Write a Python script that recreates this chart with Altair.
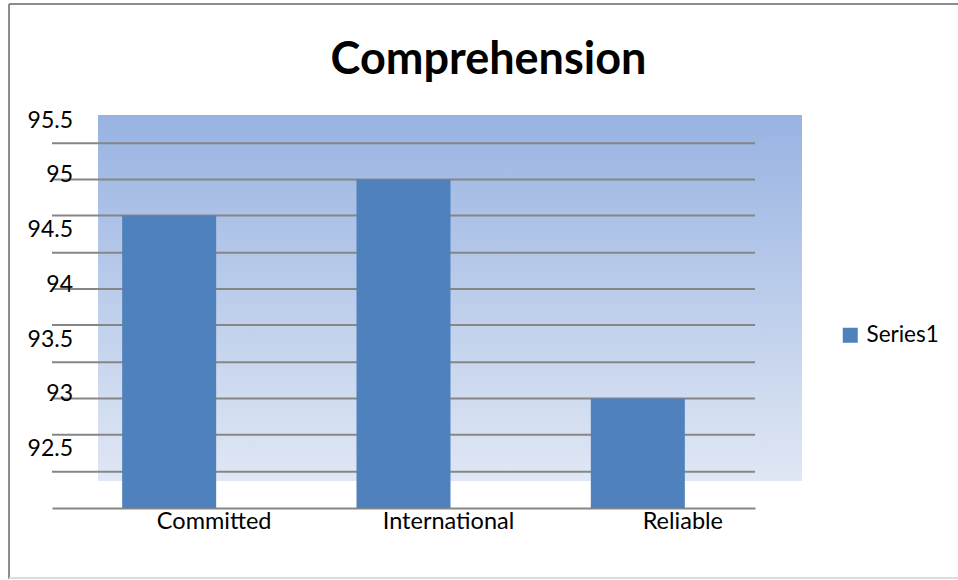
import altair as alt
import pandas as pd

# Chart values
categories = ["Committed", "International", "Reliable"]
values = [94.67, 95.0, 93.0]
series_name = "Series1"

# Horizontal gridline levels and printed y tick labels
grid_levels = [92.33, 92.67, 93.0, 93.33, 93.67, 94.0, 94.33, 94.67, 95.0, 95.33]
tick_labels = [92.5, 93.0, 93.5, 94.0, 94.5, 95.0, 95.5]
y_floor = 92

FONT = "Lato"
W, H = 703, 365
Y_DOMAIN = [y_floor, 95.333]
GRID = "#868686"
BAR = "#4f81bd"

bars_df = pd.DataFrame({"cat": categories, "val": values, "series": [series_name] * len(values)})
grid_df = pd.DataFrame({"g": grid_levels})
ticks_df = pd.DataFrame({"t": tick_labels})
one = alt.Data(values=[{}])

yscale = alt.Scale(domain=Y_DOMAIN, zero=False, nice=False)

# gradient panel behind the bars
panel = alt.Chart(one).mark_rect(
    color=alt.Gradient(
        gradient="linear",
        stops=[alt.GradientStop(color="#98b3e2", offset=0),
               alt.GradientStop(color="#e0e7f4", offset=1)],
        x1=0, x2=0, y1=0, y2=1,
    )
).encode(x=alt.value(46), x2=alt.value(750), y=alt.value(-28), y2=alt.value(338))

grid = alt.Chart(grid_df).mark_rule(color=GRID, strokeWidth=2).encode(
    y=alt.Y("g:Q", scale=yscale, axis=None),
    x=alt.value(0), x2=alt.value(W),
)

bars = alt.Chart(bars_df).mark_bar(size=94).encode(
    x=alt.X("cat:N", sort=categories,
            scale=alt.Scale(paddingInner=0.6, paddingOuter=0.3),
            axis=alt.Axis(title=None, labelAngle=0, labelOffset=45, labelPadding=1,
                          labelFont=FONT, labelFontSize=23.5, labelColor="black",
                          ticks=False, domainColor=GRID, domainWidth=2)),
    y=alt.Y("val:Q", scale=yscale,
            axis=alt.Axis(title=None, labels=False, ticks=False, grid=False,
                          domainColor=GRID, domainWidth=2)),
    y2=alt.datum(y_floor),
    color=alt.Color("series:N", scale=alt.Scale(range=[BAR]),
                    legend=alt.Legend(title=None, orient="none", legendX=787, legendY=181,
                                      padding=0, symbolType="square", symbolSize=225,
                                      symbolStrokeWidth=0, labelOffset=5,
                                      labelFont=FONT, labelFontSize=22.5, labelColor="black")),
)

labels = alt.Chart(ticks_df).mark_text(
    align="right", baseline="middle", dy=-4, font=FONT, fontSize=23, color="black"
).encode(
    y=alt.Y("t:Q", scale=yscale, axis=None),
    x=alt.value(21),
    text=alt.Text("t:Q"),
)

# outer frame
frame_left = alt.Chart(one).mark_rule(color="#8c8c8c", strokeWidth=2).encode(
    x=alt.value(-43), y=alt.value(-139), y2=alt.value(436))
frame_top = alt.Chart(one).mark_rule(color="#8c8c8c", strokeWidth=2).encode(
    x=alt.value(-43), x2=alt.value(910), y=alt.value(-139))
frame_bottom = alt.Chart(one).mark_rule(color="#dcdcdc", strokeWidth=2).encode(
    x=alt.value(-43), x2=alt.value(910), y=alt.value(435))

chart = alt.layer(
    panel, grid, bars, labels, frame_left, frame_top, frame_bottom
).properties(
    width=W, height=H,
    title=alt.TitleParams("Comprehension", font=FONT, fontSize=45, fontWeight="bold",
                          color="black", anchor="middle", dx=85, offset=-116,
                          baseline="alphabetic"),
    padding={"left": 52, "top": 143, "right": 203, "bottom": 72},
    autosize=alt.AutoSizeParams(type="none"),
    background="white",
).configure_view(stroke=None)

chart.save("out.html", embed_options={"renderer": "svg", "actions": False})
